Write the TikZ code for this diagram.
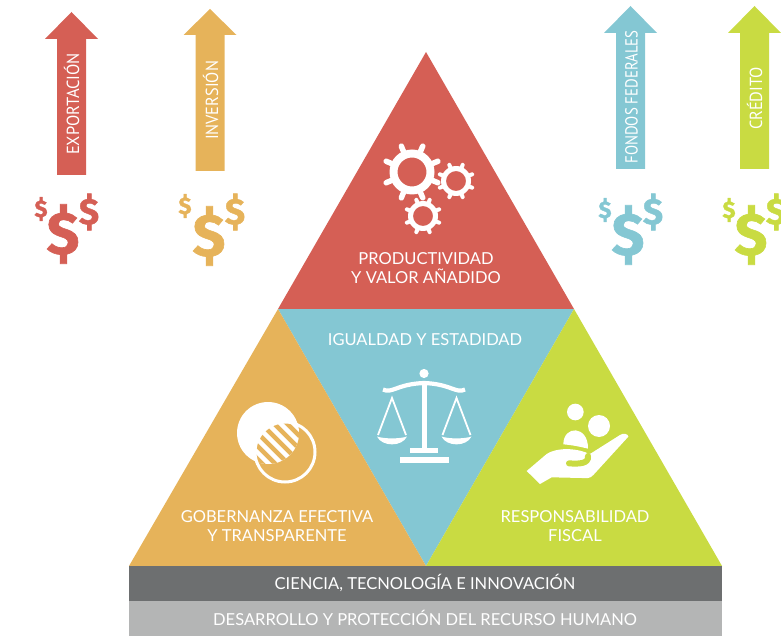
\documentclass[tikz,border=0pt]{standalone}
\usepackage{graphicx}
\usepackage{fontspec}
\setmainfont{Lato}
\newfontfamily\narrowfont{PT Sans}
\newfontfamily\dollarfont{Fira Sans}[UprightFont=* Bold,FakeBold=1]
\definecolor{cred}{HTML}{D55F55}
\definecolor{corange}{HTML}{E6B35A}
\definecolor{cblue}{HTML}{84C7D3}
\definecolor{cgreen}{HTML}{C9DB42}
\definecolor{cdark}{HTML}{6D6F70}
\definecolor{clight}{HTML}{B4B5B5}
\tikzset{
  label text/.style={text=white,font=\fontsize{16.5}{19}\selectfont,align=center,inner sep=0pt},
  arrow text/.style={text=white,font=\narrowfont\fontsize{17.5}{18}\selectfont,rotate=90,inner sep=0pt},
  white line/.style={draw=white,line cap=round},
  big dollar/.style={font=\dollarfont\fontsize{60}{60}\selectfont,inner sep=0pt},
  mid dollar/.style={font=\dollarfont\fontsize{37}{37}\selectfont,inner sep=0pt},
  small dollar/.style={font=\dollarfont\fontsize{24}{24}\selectfont,inner sep=0pt},
}
\newcommand{\upArrow}[5]{% x-center, tip y, head base y, bottom y, colour
  \fill[#5] (#1,#2) -- (#1+26.5,#3) -- (#1+14.5,#3) -- (#1+14.5,#4) -- (#1-14.5,#4) -- (#1-14.5,#3) -- (#1-26.5,#3) -- cycle;
}
\newcommand{\gearIcon}[7]{% x,y,ring outer,ring inner,tip,tooth width,start angle
  \fill[white,even odd rule] (#1,#2) circle[radius=#3] (#1,#2) circle[radius=#4];
  \foreach \a in {0,45,...,315}
    \draw[white line,line width=#6] (#1,#2) ++(\a+#7:#3-1) -- ++(\a+#7:#5-#3-1);
}
\begin{document}
\begin{tikzpicture}[x=1pt,y=-1pt]
\useasboundingbox (0,0) rectangle (781,636);
\clip (0,0) rectangle (781,636);
% triangles
\fill[cred] (426,52) -- (574,309) -- (278,309) -- cycle;
\fill[cblue] (278,309) -- (574,309) -- (426,566) -- cycle;
\fill[corange] (278,309) -- (426,566) -- (129,566) -- cycle;
\fill[cgreen] (574,309) -- (722,566) -- (426,566) -- cycle;
\fill[cdark] (129,566) rectangle (722,601);
\fill[clight] (129,601) rectangle (722,636);
% up arrows
\upArrow{71.5}{12}{39}{175}{cred}
\upArrow{210}{9}{35}{171}{corange}
\upArrow{630.5}{6}{33}{169}{cblue}
\upArrow{754.5}{6}{33}{169}{cgreen}
\node[arrow text] (exp) at (71.5,104) {\resizebox{102pt}{\height}{EXPORTACIÓN}};
\node[arrow text] (inv) at (210.5,100.5) {\resizebox{79pt}{\height}{INVERSIÓN}};
\node[arrow text] (fon) at (631.5,97) {\resizebox{133pt}{\height}{FONDOS FEDERALES}};
\node[arrow text] (cre) at (754.5,98.5) {\resizebox{63pt}{\height}{CRÉDITO}};
% dollars
\node[big dollar,text=cred] (d1) at (63,234) {\$};
\node[small dollar,text=cred] (d1a) at (41,209) {\$};
\node[mid dollar,text=cred] (d1b) at (89,212) {\$};
\node[big dollar,text=corange] (d2) at (209,236) {\$};
\node[small dollar,text=corange] (d2a) at (185,206) {\$};
\node[mid dollar,text=corange] (d2b) at (235,212) {\$};
\node[big dollar,text=cblue] (d3) at (628,235) {\$};
\node[small dollar,text=cblue] (d3a) at (605,210) {\$};
\node[mid dollar,text=cblue] (d3b) at (653,212) {\$};
\node[big dollar,text=cgreen] (d4) at (751,235) {\$};
\node[small dollar,text=cgreen] (d4a) at (729,210) {\$};
\node[mid dollar,text=cgreen] (d4b) at (776,212) {\$};
% gears
\gearIcon{412}{172}{22.5}{14.5}{30}{5.5}{22.5}
\gearIcon{456}{181}{15}{10}{19.5}{4}{22.5}
\gearIcon{423}{216}{15}{10}{19.5}{4}{22.5}
% scales
\fill[white] (424,373.5) circle[radius=4.6];
\fill[white] (421.8,384) rectangle (427,450);
\fill[white] (410,448) rectangle (438,453);
\fill[white] (400,457) rectangle (449,463);
\draw[white,line width=4.2] (383,389.5) .. controls (392,394) and (397,384) .. (424,383) .. controls (451,384) and (456,394) .. (465,389.5);
\foreach \cx in {392,456.5}{
  \draw[white,line width=1.8] (\cx-14,435) -- (\cx,398) -- (\cx+14,435);
  \fill[white] (\cx-15,436.5) .. controls (\cx-8,439) and (\cx+8,439) .. (\cx+15,436.5) .. controls (\cx+10,447) and (\cx-10,447) .. (\cx-15,436.5) -- cycle;
}
% circles icon
\fill[white] (268,433) circle[radius=31];
\begin{scope}
  \clip (268,433) circle[radius=31];
  \clip (285,452) circle[radius=30];
  \fill[corange] (230,400) rectangle (320,490);
  \foreach \k in {-40,-27,...,40}
    \draw[white,line width=4.5] (277+\k-40,445-40) -- (277+\k+40,445+40);
\end{scope}
\draw[white,line width=3] (285,452) circle[radius=30];
% hand
\begin{scope}[shift={(515,390)},scale=1/3]
  \fill[white] (181,66) circle[radius=25];
  \fill[white] (252,108) circle[radius=33];
  \fill[white] (145,163) .. controls (145,105) and (220,105) .. (219,176) .. controls (195,170) and (170,165) .. (145,163) -- cycle;
  \fill[white] (35,243) -- (95,192) .. controls (120,175) and (170,172) .. (212,187)
     .. controls (222,192) and (222,195) .. (228,190) -- (315,135) .. controls (325,128) and (340,132) .. (340,140)
     -- (235,255) .. controls (225,266) and (215,265) .. (200,264) -- (110,262) -- (75,282) -- cycle;
  \draw[cgreen,line width=6,line cap=round] (162,220) .. controls (190,222) and (222,222) .. (219,198);
\end{scope}
% labels
\node[label text] (prod) at (426,268.5) {PRODUCTIVIDAD\\Y VALOR AÑADIDO};
\node[label text] (igual) at (425,340) {IGUALDAD Y ESTADIDAD};
\node[label text] (gob) at (277,526.5) {GOBERNANZA EFECTIVA\\Y TRANSPARENTE};
\node[label text] (resp) at (575,526.5) {RESPONSABILIDAD\\FISCAL};
\node[label text] (cien) at (425,583) {CIENCIA, TECNOLOGÍA E INNOVACIÓN};
\node[label text] (des) at (425,617.5) {DESARROLLO Y PROTECCIÓN DEL RECURSO HUMANO};
\end{tikzpicture}
\end{document}
